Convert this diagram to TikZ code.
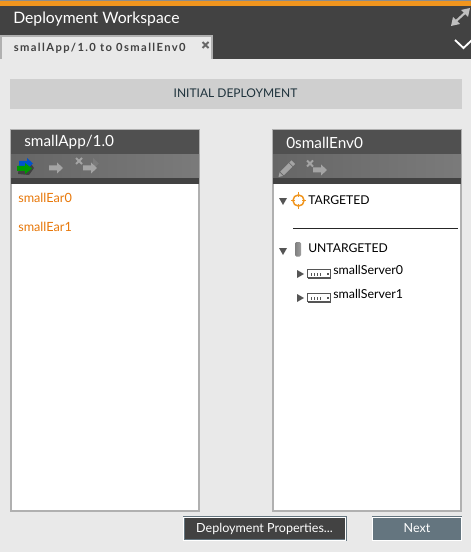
\documentclass[tikz,border=0pt]{standalone}
\usepackage{fontspec}
\setmainfont{Lato}
\definecolor{bgc}{HTML}{E9E9E9}
\definecolor{darkc}{HTML}{424242}
\definecolor{orangec}{HTML}{F0951E}
\definecolor{bannerc}{HTML}{CFCFCF}
\definecolor{borderc}{HTML}{B0B0B0}
\definecolor{headc}{HTML}{505050}
\definecolor{inkc}{HTML}{1F333D}
\definecolor{earc}{HTML}{E8780A}
\definecolor{iconc}{HTML}{A4A4A4}
\definecolor{btnb}{HTML}{64757F}
\definecolor{servc}{HTML}{555555}
\tikzset{
  x=0.75pt,y=-0.75pt,
  txt/.style={inner sep=0pt,anchor=west,font=\fontsize{9.1pt}{11pt}\selectfont,text=black},
  srv/.style={txt,font=\fontsize{9.3pt}{11pt}\selectfont},
  ear/.style={txt,font=\fontsize{9.5pt}{11pt}\selectfont,text=earc},
  headtxt/.style={inner sep=0pt,anchor=west,font=\fontsize{11.5pt}{13pt}\selectfont,text=white},
  btn/.style={draw=btnb,line width=0.5pt,double=white,double distance=0.5pt,minimum height=17pt,inner sep=0pt,text=white,font=\fontsize{9.4pt}{11pt}\selectfont},
  ghost/.style={fill=iconc,draw=none},
  tri/.style={fill=servc,draw=none},
}
\newcommand{\ghostarrow}[2]{%
  \fill[ghost] (#1-8,#2-2.5) -- (#1,#2-2.5) -- (#1,#2-5.5) -- (#1+6,#2) -- (#1,#2+5.5) -- (#1,#2+2.5) -- (#1-8,#2+2.5) -- cycle;}
\newcommand{\ghostx}[2]{%
  \draw[iconc,line width=1.5pt] (#1-3,#2-3) -- (#1+3,#2+3) (#1-3,#2+3) -- (#1+3,#2-3);}
\newcommand{\servericon}[2]{%
  \fill[white,draw=servc,line width=0.9pt] (#1,#2) rectangle (#1+23,#2+8);
  \fill[servc] (#1,#2+7) rectangle (#1+23,#2+9);
  \foreach \i in {3,6,9,12}{\fill[servc] (#1+\i,#2+3) rectangle (#1+\i+1.4,#2+6);}
  \fill[servc] (#1+19,#2+3) rectangle (#1+21,#2+5);}
\newcommand{\panel}[2]{%
  \fill[borderc] (#1,129) rectangle (#1+190,512);
  \fill[white] (#1+2,184) rectangle (#1+188,510);
  \fill[headc] (#1+1,130) rectangle (#1+189,154);
  \fill[black!65] (#1+1,154) rectangle (#1+189,155);
  \shade[left color=black!60,right color=black!52] (#1+1,155) rectangle (#1+189,178);
  \fill[darkc] (#1+1,178) rectangle (#1+189,184);}
\begin{document}
\begin{tikzpicture}
\useasboundingbox (0,0) rectangle (471,552);
\fill[bgc] (0,0) rectangle (471,552);
% top bar
\fill[darkc] (0,0) rectangle (471,59);
\fill[black!45] (0,0) rectangle (471,1);
\fill[orangec] (0,1) rectangle (471,6);
\node[headtxt,font=\fontsize{11.8pt}{13pt}\selectfont] (title) at (13,19.5) {Deployment Workspace};
% tab
\fill[bgc,draw=borderc,line width=0.8pt] (1,59) -- (1,36) -- (212,36) -- (212,59);
\fill[bgc] (0,59) rectangle (471,62);
\node[inner sep=0pt,anchor=west,font=\bfseries\fontsize{8.4pt}{10pt}\selectfont,text=darkc] (tab) at (13.5,48) {\addfontfeature{LetterSpace=12.5}smallApp/1.0 to 0smallEnv0};
\draw[darkc!80,line width=1.5pt] (202.5,42) -- (208.5,48) (202.5,48) -- (208.5,42);
% expand icon
\draw[iconc!70!white,line width=1.6pt] (455,22) -- (466,12);
\fill[iconc!70!white] (470,8) -- (461,10) -- (468,17) -- cycle;
\fill[iconc!70!white] (451,26) -- (460,24) -- (453,17) -- cycle;
% chevron
\draw[white,line width=1.4pt] (455,40) -- (463.5,48) -- (472,40);
% banner
\fill[bannerc] (10,79) rectangle (462,109);
\node[inner sep=0pt,font=\fontsize{9pt}{11pt}\selectfont,text=inkc] (banner) at (235.5,93) {INITIAL DEPLOYMENT};
% panels
\panel{10}{}
\panel{272}{}
\node[headtxt] (lefthead) at (24,142.5) {smallApp/1.0};
\node[headtxt] (righthead) at (286,142.5) {0smallEnv0};
% left toolbar icons
\fill[black!75] (19,165) -- (29,165) -- (29,161) -- (34,168) -- (29,175) -- (18,174) -- cycle;
\fill[blue!60!cyan!80!black] (19,161) -- (27,161) -- (27,158) -- (33,163.5) -- (27,169) -- (27,166) -- (19,166) -- cycle;
\fill[green!60!black] (17,166) -- (25,166) -- (25,163) -- (32,168.5) -- (25,174) -- (25,171) -- (17,171) -- cycle;
\ghostarrow{57}{168}
\ghostx{79}{161}
\fill[iconc!75!black] (93,158) -- (99,163.5) -- (93,169) -- cycle;
\ghostarrow{91}{168}
% right toolbar icons
\fill[iconc,rotate around={45:(287,168.5)}] (280,166) rectangle (292,171);
\fill[iconc,rotate around={45:(287,168.5)}] (279,166) -- (279,171) -- (275,168.5) -- cycle;
\fill[iconc,rotate around={45:(287,168.5)}] (293,166) rectangle (296,171);
\ghostx{310}{163.5}
\ghostarrow{321}{170}
% left list
\node[ear] (ear0) at (18,198) {smallEar0};
\node[ear] (ear1) at (18,227) {smallEar1};
% right tree
\fill[tri] (279,198) -- (287,198) -- (283,205) -- cycle;
\draw[orangec,line width=1.1pt] (298.5,200.5) circle (5.6);
\draw[orangec,line width=1.1pt] (298.5,192.5) -- (298.5,197) (298.5,204) -- (298.5,208.5) (291,200.5) -- (295,200.5) (302,200.5) -- (306,200.5);
\node[txt] (targeted) at (308,200) {TARGETED};
\draw[black!85,line width=0.55pt] (293,228) -- (458,228);
\fill[tri] (279,248) -- (287,248) -- (283,255) -- cycle;
\shade[rounded corners=1pt,left color=black!50,right color=black!38] (295,242) rectangle (301,256.5);
\node[txt] (untargeted) at (308,248) {UNTARGETED};
\fill[tri] (297,270) -- (304,274) -- (297,278) -- cycle;
\servericon{307.5}{269.5}
\node[srv] (s0) at (333,270) {smallServer0};
\fill[tri] (297,294) -- (304,298) -- (297,302) -- cycle;
\servericon{307.5}{293.5}
\node[srv] (s1) at (333,294) {smallServer1};
% buttons
\node[btn,fill=darkc,minimum width=121.5pt] at (264.5,528.5) (props) {Deployment Properties...};
\node[btn,fill=btnb,minimum width=66.5pt] at (417,528.5) (next) {Next};
\end{tikzpicture}
\end{document}
